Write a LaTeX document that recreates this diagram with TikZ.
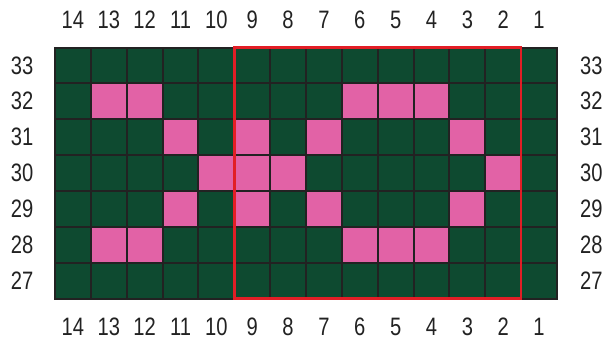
\documentclass[tikz,border=0pt]{standalone}
\usepackage{fontspec}
\newfontfamily\numfont[FakeStretch=0.8]{Liberation Sans}
\usepackage{tikz}
\usetikzlibrary{calc}
\definecolor{mygreen}{RGB}{14,74,48}
\definecolor{mypink}{RGB}{226,98,166}
\definecolor{myred}{RGB}{226,30,38}
\definecolor{mydark}{RGB}{34,34,34}
\tikzset{
  cell/.style={rectangle, draw=mydark, fill=mygreen,
    minimum size=1cm, inner sep=0pt, outer sep=0pt, line width=1.6pt},
  pinkcell/.style={cell, fill=mypink},
  numlbl/.style={font=\numfont\fontsize{20}{22}\selectfont,
    text=mydark, inner sep=0pt},
  redbox/.style={draw=myred, line width=2pt}
}

\begin{document}
\begin{tikzpicture}
  \useasboundingbox (-1.534,1.325) rectangle (15.366,-8.157);

  % Grid cells
  \foreach \r in {27,...,33} {
    \foreach \c in {1,...,14} {
      \node[cell] (c\r-\c) at ({14.5-\c}, {\r-33.5}) {};
    }
  }

  % Pink stitches
  \foreach \r/\c in {32/13, 32/12, 32/6, 32/5, 32/4,
                     31/11, 31/9, 31/7, 31/3,
                     30/10, 30/9, 30/8, 30/2,
                     29/11, 29/9, 29/7, 29/3,
                     28/13, 28/12, 28/6, 28/5, 28/4}
    \node[pinkcell] (p\r-\c) at (c\r-\c) {};

  % Column numbers
  \foreach \c in {1,...,14} {
    \node[numlbl] (top\c) at ($(c33-\c)+(0,1.27)$) {\c};
    \node[numlbl] (bot\c) at ($(c27-\c)+(0,-1.29)$) {\c};
  }

  % Row numbers
  \foreach \r in {27,...,33} {
    \node[numlbl] (lft\r) at ($(c\r-14)+(-1.42,0)$) {\r};
    \node[numlbl] (rgt\r) at ($(c\r-1)+(1.46,0)$) {\r};
  }

  % Repeat box
  \draw[redbox] (c33-9.north west) rectangle (c27-2.south east);
\end{tikzpicture}
\end{document}
